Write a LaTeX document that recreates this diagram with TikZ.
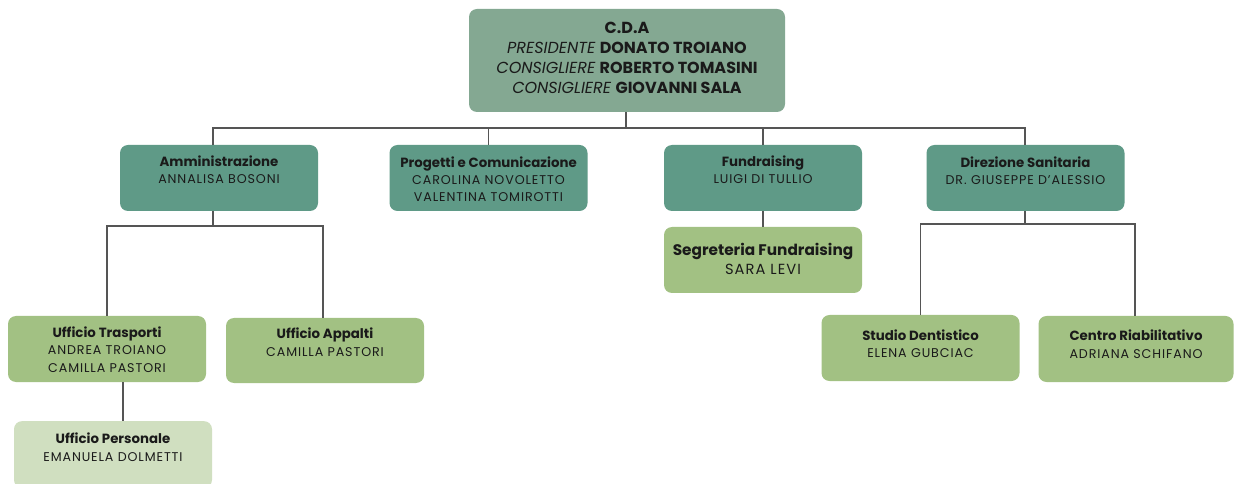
\documentclass[tikz,border=0pt]{standalone}
\usepackage{fontspec}
\setmainfont{Poppins}
\newfontfamily\nmfont[LetterSpace=7]{Poppins}
\definecolor{cdac}{HTML}{84A892}
\definecolor{lvtwo}{HTML}{5F9A87}
\definecolor{lvthree}{HTML}{A2C183}
\definecolor{lvpale}{HTML}{D0DFC0}
\definecolor{linec}{HTML}{555555}
\definecolor{txtc}{HTML}{1A1A1A}
\newcommand{\nm}[1]{{\nmfont\fontsize{9.5}{13}\selectfont #1}}
\newcommand{\ttl}[1]{{\bfseries\fontsize{10}{13}\selectfont #1}}
\begin{document}
\begin{tikzpicture}[x=0.75pt,y=-0.75pt,
  box/.style={rounded corners=6pt, minimum width=148.5pt, minimum height=49.5pt, inner sep=0pt, draw=none},
  txt/.style={anchor=north, align=center, inner sep=0pt, text=txtc, font=\fontsize{9.5}{13}\selectfont},
  bigtxt/.style={anchor=north, align=center, inner sep=0pt, text=txtc, font=\fontsize{12}{15}\selectfont},
  segtxt/.style={anchor=north, align=center, inner sep=0pt, text=txtc, font=\fontsize{11.5}{14.5}\selectfont},
  conn/.style={draw=linec, line width=0.9pt}]
\useasboundingbox (0,0) rectangle (1234,484);
\fill[white] (0,0) rectangle (1234,484);

% boxes
\node[box, fill=cdac, minimum width=237pt, minimum height=77.25pt] (cda) at (627,60.5) {};
\node[box, fill=lvtwo] (amm) at (219,178) {};
\node[box, fill=lvtwo] (prog) at (488.5,178) {};
\node[box, fill=lvtwo] (fund) at (763,178) {};
\node[box, fill=lvtwo] (dir) at (1025.5,178) {};
\node[box, fill=lvthree] (seg) at (763,260) {};
\node[box, fill=lvthree] (tras) at (107,349) {};
\node[box, fill=lvthree, minimum height=48.75pt] (app) at (325,350.5) {};
\node[box, fill=lvpale, minimum height=50pt] (pers) at (113,454.5) {};
\node[box, fill=lvthree] (stud) at (920.5,348) {};
\node[box, fill=lvthree, minimum width=146.25pt] (cent) at (1136,349) {};

% texts
\node[bigtxt] (cda-t) at ([yshift=-9.5pt]cda.north) {\textbf{C.D.A}\\
  \textit{PRESIDENTE} \textbf{DONATO TROIANO}\\
  \textit{CONSIGLIERE} \textbf{ROBERTO TOMASINI}\\
  \textit{CONSIGLIERE} \textbf{GIOVANNI SALA}};
\node[txt] (amm-t) at ([yshift=-8pt]amm.north) {\ttl{Amministrazione}\\\nm{ANNALISA BOSONI}};
\node[txt] (prog-t) at ([yshift=-8.5pt]prog.north) {\ttl{Progetti e Comunicazione}\\\nm{CAROLINA NOVOLETTO}\\\nm{VALENTINA TOMIROTTI}};
\node[txt] (fund-t) at ([yshift=-8pt]fund.north) {\ttl{Fundraising}\\\nm{LUIGI DI TULLIO}};
\node[txt] (dir-t) at ([yshift=-8.5pt]dir.north) {\ttl{Direzione Sanitaria}\\\nm{DR. GIUSEPPE D’ALESSIO}};
\node[segtxt] (seg-t) at ([yshift=-12pt]seg.north) {\textbf{Segreteria Fundraising}\\{\nmfont\fontsize{11}{14.5}\selectfont SARA LEVI}};
\node[txt] (tras-t) at ([yshift=-8pt]tras.north) {\ttl{Ufficio Trasporti}\\\nm{ANDREA TROIANO}\\\nm{CAMILLA PASTORI}};
\node[txt] (app-t) at ([yshift=-7.5pt]app.north) {\ttl{Ufficio Appalti}\\\nm{CAMILLA PASTORI}};
\node[txt] (pers-t) at ([yshift=-9pt]pers.north) {\ttl{Ufficio Personale}\\\nm{EMANUELA DOLMETTI}};
\node[txt] (stud-t) at ([yshift=-11pt]stud.north) {\ttl{Studio Dentistico}\\\nm{ELENA GUBCIAC}};
\node[txt] (cent-t) at ([yshift=-10.5pt]cent.north) {\ttl{Centro Riabilitativo}\\\nm{ADRIANA SCHIFANO}};

% junctions
\coordinate (jcda) at (626,128);
\coordinate (jamm) at (213,226);
\coordinate (jdir) at (1025,224);

% connectors
\draw[conn] (cda.south -| jcda) -- (jcda);
\draw[conn] (jcda) -| (jamm |- amm.north);
\draw[conn] (jcda) -| (prog.north);
\draw[conn] (jcda) -| (fund.north);
\draw[conn] (jcda) -| (dir.north -| jdir);
\draw[conn] (amm.south -| jamm) -- (jamm);
\draw[conn] (jamm) -| (tras.north);
\draw[conn] (jamm) -| ([xshift=-1.5pt]app.north);
\draw[conn] (fund.south) -- (seg.north);
\draw[conn] ([xshift=12pt]tras.south) -- ([xshift=7.5pt]pers.north);
\draw[conn] (dir.south -| jdir) -- (jdir);
\draw[conn] (jdir) -| (stud.north);
\draw[conn] (jdir) -| ([xshift=-0.75pt]cent.north);
\end{tikzpicture}
\end{document}
